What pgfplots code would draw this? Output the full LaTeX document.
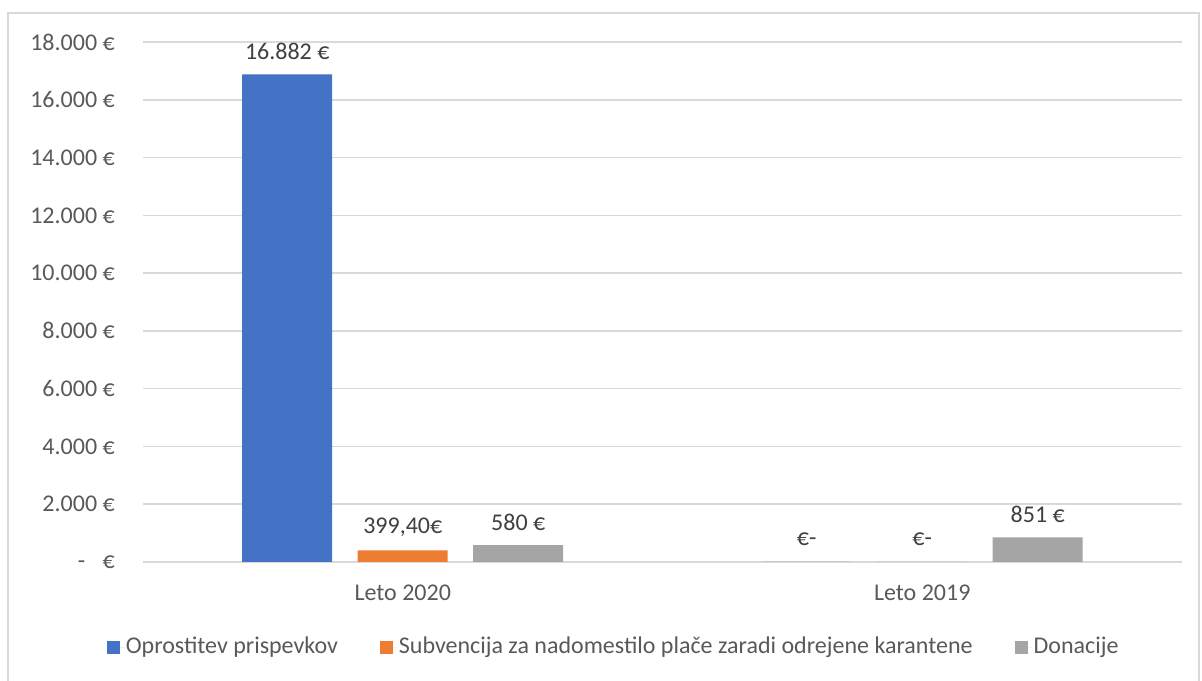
\documentclass[border=0pt]{standalone}
\usepackage{pgfplots}
\pgfplotsset{compat=1.18}
\usepackage{fontspec}
\setmainfont{Carlito}
\definecolor{cblue}{HTML}{4472C4}
\definecolor{corange}{HTML}{ED7D31}
\definecolor{cgray}{HTML}{A5A5A5}
\definecolor{gridgray}{HTML}{D9D9D9}
\definecolor{textgray}{HTML}{595959}
\definecolor{labelgray}{HTML}{404040}
\newcommand\f{\fontsize{24}{28}\selectfont}
\begin{document}
\f
\begin{tikzpicture}[x=1pt,y=1pt]
\useasboundingbox (0,0) rectangle (1202,680);
\draw[gridgray, line width=1.5pt] (8,-5) rectangle (1199,667);
\begin{axis}[
  at={(143pt,118pt)}, anchor=south west,
  scale only axis, width=1039pt, height=520pt,
  xmin=-0.5, xmax=1.5, ymin=0, ymax=18000,
  scaled y ticks=false,
  ybar, bar width=90pt,
  axis line style={draw=none},
  major tick length=0pt,
  ymajorgrids, grid style={gridgray, line width=1.5pt},
  xtick={0,1}, xticklabels={Leto 2020, Leto 2019},
  ytick={0,2000,...,18000},
  yticklabels={{\makebox[37pt]{-\hfill€}},2.000 €,4.000 €,6.000 €,8.000 €,10.000 €,12.000 €,14.000 €,16.000 €,18.000 €},
  tick label style={font=\f, text=textgray},
  y tick label style={xshift=-20pt},
  x tick label style={yshift=-15pt},
  nodes near coords, point meta=explicit symbolic,
  every node near coord/.append style={font=\f, text=labelgray, anchor=center, yshift=23pt},
  legend columns=3,
  legend style={at={(0.453,-0.1635)}, anchor=center, draw=none, fill=none, font=\f, text=textgray,
    /tikz/every even column/.append style={column sep=40pt}},
  legend image code/.code={\path[#1] (0pt,-6.5pt) rectangle (13pt,6.5pt); \path (0pt,0pt) -- (17pt,0pt);},
]
\addplot[fill=cblue, draw=none, bar shift=-115.5pt] coordinates {(0,16882) [16.882 €] (1,0) [€-]};
\addplot[fill=corange, draw=none, bar shift=0pt] coordinates {(0,399.4) [399,40€] (1,0) [€-]};
\addplot[fill=cgray, draw=none, bar shift=115.5pt] coordinates {(0,580) [580 €] (1,851) [851 €]};
\legend{Oprostitev prispevkov, Subvencija za nadomestilo plače zaradi odrejene karantene, Donacije}
\end{axis}
\end{tikzpicture}
\end{document}
